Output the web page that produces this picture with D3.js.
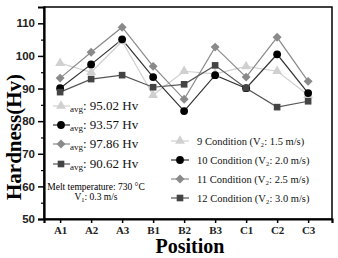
<!DOCTYPE html>
<html><head><meta charset="utf-8">
<script src="https://cdn.jsdelivr.net/npm/d3@7"></script>
<style>body{margin:0;background:#fff}svg{display:block}</style>
</head><body>
<script>
const categories = ["A1","A2","A3","B1","B2","B3","C1","C2","C3"];
const s9  = [97.8, 95.0, 104.5, 88.0, 95.3, 94.5, 96.8, 95.3, 88.0];
const s10 = [90.1, 97.4, 105.1, 93.5, 83.1, 94.1, 90.1, 100.5, 88.6];
const s11 = [93.2, 101.1, 108.8, 96.8, 86.7, 102.7, 93.5, 105.7, 92.2];
const s12 = [88.9, 92.9, 94.1, 90.4, 91.3, 97.1, 90.1, 84.3, 86.1];
const seriesNames = ["9 Condition  (V\u2082: 1.5 m/s)","10 Condition (V\u2082: 2.0 m/s)","11 Condition (V\u2082: 2.5 m/s)","12 Condition (V\u2082: 3.0 m/s)"];
const avgLabels = ["95.02 Hv","93.57 Hv","97.86 Hv","90.62 Hv"];
const yTicks = [50,60,70,80,90,100,110];

const W=338,H=258;
const svg=d3.select("body").append("svg").attr("width",W).attr("height",H);
const mL=44,mR=332,mT=7,mB=219;
const x=d3.scaleLinear().domain([0.48,9.77]).range([mL,mR]);
const y=d3.scaleLinear().domain([50,115]).range([mB,mT]);

const series=[
 {v:s9, line:"#d0d0d0", fill:"#d0d0d0", sym:d3.symbolTriangle, size:42, rot:0},
 {v:s10,line:"#333", fill:"#000", sym:d3.symbolCircle, size:48, rot:0},
 {v:s11,line:"#8a8a8a", fill:"#8a8a8a", sym:d3.symbolSquare, size:40, rot:45},
 {v:s12,line:"#555", fill:"#444", sym:d3.symbolSquare, size:44, rot:0}
];

// frame
svg.append("rect").attr("x",mL).attr("y",mT).attr("width",mR-mL).attr("height",mB-mT)
 .attr("fill","none").attr("stroke","#000").attr("stroke-width",1.5);

// y axis
const ya=svg.append("g").attr("transform",`translate(${mL},0)`)
 .call(d3.axisLeft(y).tickValues(yTicks).tickSize(6).tickPadding(3).tickFormat(d3.format("d")));
ya.select(".domain").attr("stroke-width",2.2);
ya.selectAll(".tick line").attr("stroke-width",1.5);
ya.selectAll("text").attr("font-family","Liberation Sans, Arial, sans-serif").attr("font-weight","bold").attr("font-size",11.5).attr("fill","#222");
svg.append("g").attr("transform",`translate(${mL},0)`)
 .call(d3.axisLeft(y).tickValues(d3.range(55,115,10)).tickSize(3).tickFormat(""))
 .call(g=>g.select(".domain").remove()).selectAll("line").attr("stroke-width",1.2);

// x axis
const xa=svg.append("g").attr("transform",`translate(0,${mB})`)
 .call(d3.axisBottom(x).tickValues(d3.range(1,10)).tickSize(4).tickPadding(3).tickFormat(i=>categories[i-1]));
xa.select(".domain").attr("stroke-width",2.2);
xa.selectAll(".tick line").attr("stroke-width",1.5);
xa.selectAll("text").attr("font-family","Liberation Serif, Times New Roman, serif").attr("font-weight","bold").attr("font-size",11).attr("fill","#222");

// axis titles
svg.append("text").attr("transform",`translate(21,${137}) rotate(-90)`).attr("text-anchor","middle")
 .attr("font-family","Liberation Serif, serif").attr("font-weight","bold").attr("font-size",21).text("Hardness(Hv)");
svg.append("text").attr("x",190).attr("y",253).attr("text-anchor","middle")
 .attr("font-family","Liberation Serif, serif").attr("font-weight","bold").attr("font-size",20).text("Position");

// lines & markers
const line=d3.line().x((d,i)=>x(i+1)).y(d=>y(d));
series.forEach(s=>{
 svg.append("path").attr("d",line(s.v)).attr("fill","none").attr("stroke",s.line).attr("stroke-width",1.2);
});
series.forEach(s=>{
 svg.selectAll(null).data(s.v).enter().append("path")
  .attr("d",d3.symbol().type(s.sym).size(s.size))
  .attr("transform",(d,i)=>`translate(${x(i+1)},${y(d)}) rotate(${s.rot})`).attr("fill",s.fill);
});

// left legend (averages)
const ly=[110,129,148,168];
series.forEach((s,k)=>{
 const g=svg.append("g").attr("transform",`translate(0,${ly[k]-4})`);
 g.append("line").attr("x1",53).attr("x2",70).attr("stroke",s.line).attr("stroke-width",1.2);
 g.append("path").attr("d",d3.symbol().type(s.sym).size(s.size)()).attr("transform",`translate(61,0) rotate(${s.rot})`).attr("fill",s.fill);
 const t=svg.append("text").attr("x",70).attr("y",ly[k]).attr("font-family","Liberation Serif, serif").attr("fill","#111");
 t.append("tspan").attr("font-size",9).attr("dy",2).text("avg");
 t.append("tspan").attr("font-size",13).attr("dy",-2).text(": "+avgLabels[k]);
});
svg.append("text").attr("x",96).attr("y",190).attr("text-anchor","middle").attr("font-family","Liberation Serif, serif").attr("font-size",9.5).text("Melt temperature: 730 \u00B0C");
const v1=svg.append("text").attr("x",96).attr("y",200).attr("text-anchor","middle").attr("font-family","Liberation Serif, serif").attr("font-size",9.5);
v1.append("tspan").text("V");
v1.append("tspan").attr("font-size",6.5).attr("dy",2).text("1");
v1.append("tspan").attr("dy",-2).text(": 0.3 m/s");

// right legend
const ry=[145,164,183,202];
series.forEach((s,k)=>{
 const g=svg.append("g").attr("transform",`translate(0,${ry[k]-4})`);
 g.append("line").attr("x1",171).attr("x2",189).attr("stroke",s.line).attr("stroke-width",1.2);
 g.append("path").attr("d",d3.symbol().type(s.sym).size(s.size)()).attr("transform",`translate(180,0) rotate(${s.rot})`).attr("fill",s.fill);
 svg.append("text").attr("x",197).attr("y",ry[k]).attr("font-family","Liberation Serif, serif").attr("font-size",10.5).attr("fill","#111").text(seriesNames[k]);
});
</script>
</body></html>
